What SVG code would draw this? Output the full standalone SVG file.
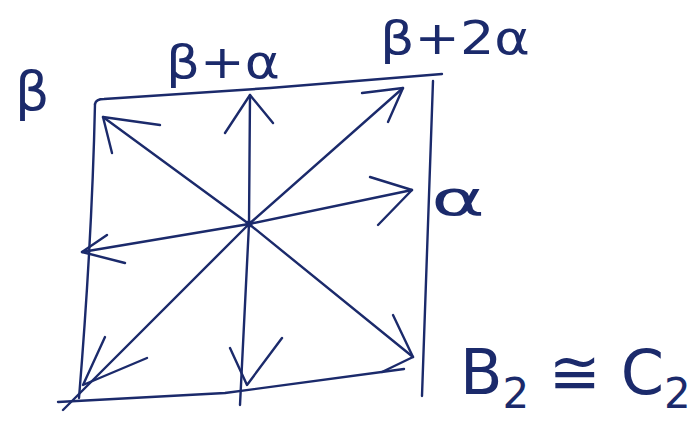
<svg xmlns="http://www.w3.org/2000/svg" width="699" height="432" viewBox="0 0 699 432">
<style>
.ink{fill:none;stroke:#1b2a6b;stroke-width:2.4;stroke-linecap:round;stroke-linejoin:round}
.lbl{fill:#1b2a6b;font-family:"DejaVu Sans","Liberation Sans",sans-serif}
</style>
<rect width="699" height="432" fill="#ffffff"/>
<g id="box" class="ink">
<path d="M95,104 Q96,99 104,99 L270,88 L442,74"/>
<path d="M95,104 Q92,240 79,398"/>
<path d="M58,402 L225,393 L404,369"/>
<path d="M433,81 Q428,240 422,396"/>
</g>
<g id="center"><circle cx="249" cy="224" r="3.5" fill="#1b2a6b"/></g>
<g id="roots" class="ink">
<path d="M249,224 L250,95"/><polyline points="225,133 250,95 273,123"/>
<path d="M249,224 L103,117"/><polyline points="160,125 103,117 112,153"/>
<path d="M249,224 L403,88"/><polyline points="362,93 403,88 388,122"/>
<path d="M249,224 L412,190"/><polyline points="370,177 412,190 378,225"/>
<path d="M249,224 L82,252"/><polyline points="107,235 82,252 125,263"/>
<path d="M249,224 L63,410"/><polyline points="105,337 83,385 147,358"/>
<path d="M249,224 L240,405"/><polyline points="230,348 247,385 282,338"/>
<path d="M249,224 L413,357"/><polyline points="393,315 413,357 382,372"/>
</g>
<g id="labels">
<text id="beta" class="lbl" x="15" y="110" font-size="54">β</text>
<text id="beta-plus-alpha" class="lbl" x="166" y="78" font-size="46" textLength="114" lengthAdjust="spacingAndGlyphs">β+α</text>
<text id="beta-plus-2alpha" class="lbl" x="380" y="54" font-size="46" textLength="150" lengthAdjust="spacingAndGlyphs">β+2α</text>
<text id="alpha" class="lbl" x="431" y="215" font-size="48" textLength="54" lengthAdjust="spacingAndGlyphs">α</text>
<text id="b2c2" class="lbl" x="460" y="394" font-size="62">B<tspan font-size="42" dy="14">2</tspan><tspan dy="-14"> ≅ C</tspan><tspan font-size="42" dy="14">2</tspan></text>
</g>
</svg>
